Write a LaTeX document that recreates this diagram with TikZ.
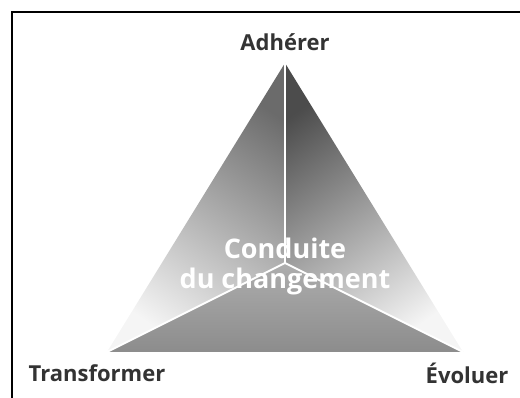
\documentclass[tikz,border=0pt]{standalone}
\usepackage{fontspec}
\setmainfont{Open Sans}
\usetikzlibrary{positioning}

\begin{document}
\begin{tikzpicture}[x=1pt, y=-1pt,
    corner/.style={font=\fontsize{22}{26}\selectfont\bfseries, text=black!80},
    centre/.style={font=\fontsize{27}{30}\selectfont\bfseries, text=white, align=center},
    ridge/.style={draw=white, line width=1.8pt}]
  \useasboundingbox (0, 0) rectangle (520, 398);
  % frame, only the left and top edges are in view
  \draw [line width=2pt] (12, 410) -- (12, 12) -- (530, 12);
  % corners of the triangle
  \coordinate (apex) at (285, 63);
  \coordinate (left) at (107, 352);
  \coordinate (right) at (463, 352);
  \coordinate (mid) at (285, 263);
  % draw fills so the ridges sit on top of them
  \shade [top color=black!58, bottom color=black!4, shading angle=-35]
    (apex) -- (mid) -- (left) -- cycle;
  \shade [top color=black!70, bottom color=black!4, shading angle=35]
    (apex) -- (right) -- (mid) -- cycle;
  \shade [top color=black!32, bottom color=black!45]
    (mid) -- (right) -- (left) -- cycle;
  % ridges
  \draw [ridge] (mid) -- (apex);
  \draw [ridge] (mid) -- (left);
  \draw [ridge] (mid) -- (right);
  % Add labels
  \node [corner] (adh) at (285, 42) {Adhérer};
  \node [corner] (tra) at (97, 373) {Transformer};
  \node [corner] (evo) at (467, 373) {Évoluer};
  \node [centre] (cdc) at (285, 266) {Conduite\\du changement};
\end{tikzpicture}
\end{document}
